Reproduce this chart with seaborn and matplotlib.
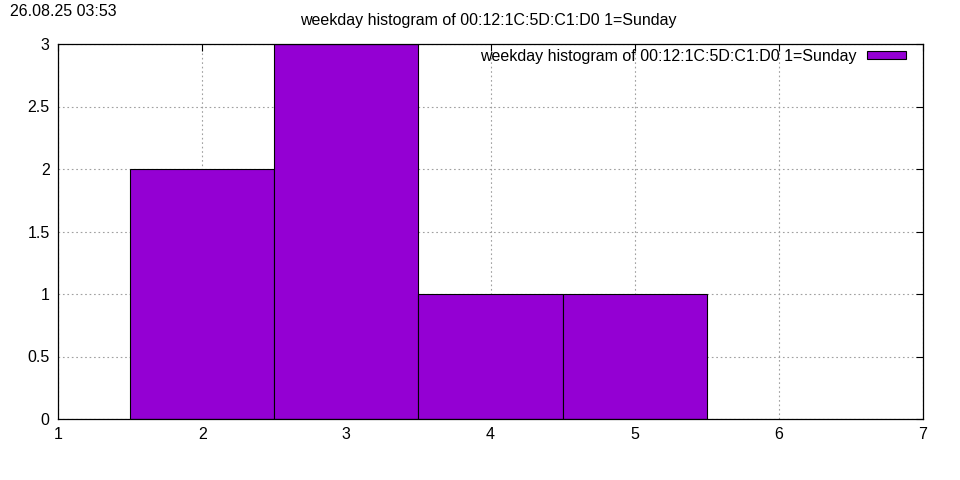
import matplotlib
matplotlib.use("Agg")
import numpy as np
import seaborn as sns
import matplotlib.pyplot as plt

# weekday counts (1=Sunday)
weekdays = [2, 3, 4, 5]
counts = [2, 3, 1, 1]
title = "weekday histogram of 00:12:1C:5D:C1:D0 1=Sunday"
stamp = "26.08.25 03:53"

sns.set_style("white")
plt.rcParams['font.family'] = ['Liberation Sans', 'DejaVu Sans']
plt.rcParams['font.size'] = 11.5
plt.rcParams['text.color'] = 'black'

fig = plt.figure(figsize=(9.6, 4.8), dpi=100)
ax = fig.add_axes([58 / 960, 61 / 480, 865 / 960, 375 / 480])

sns.histplot(x=weekdays, weights=counts, discrete=True, color='#9400d3',
             edgecolor='black', linewidth=0.8, alpha=1, ax=ax, label=title)

ax.set_xlim(1, 7)
ax.set_ylim(0, 3)
ax.set_xticks(np.arange(1, 8, 1))
ax.set_yticks(np.arange(0, 3.01, 0.5))
ax.set_yticklabels(["0", "0.5", "1", "1.5", "2", "2.5", "3"])
ax.set_xlabel("")
ax.set_ylabel("")
ax.grid(True, color='#a0a0a0', linestyle=(0, (1.5, 2.5)), linewidth=0.8)
ax.set_axisbelow(True)
ax.tick_params(direction='in', top=True, right=True, length=5, width=0.8,
               labelsize=11.5, pad=6, colors='black')
for s in ax.spines.values():
    s.set_color('black')
    s.set_linewidth(0.9)

leg = ax.legend(loc='upper right', bbox_to_anchor=(0.99, 1.008), frameon=False,
                markerfirst=False, handlelength=2.45, handleheight=0.38,
                fontsize=11.5, borderaxespad=0.1, handletextpad=0.7)

fig.text(488 / 960, 1 - 21 / 480, title, ha='center', va='center', fontsize=11.5)
fig.text(10 / 960, 1 - 12 / 480, stamp, ha='left', va='center', fontsize=11.5)

fig.savefig("out.png", dpi=100)
